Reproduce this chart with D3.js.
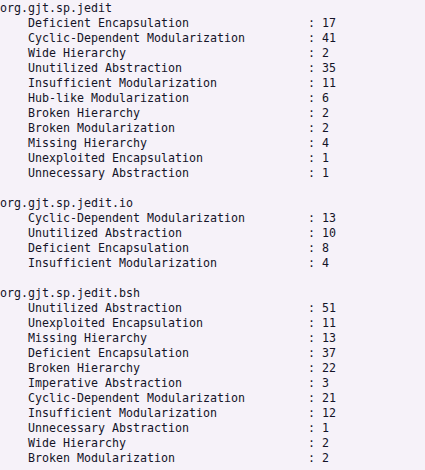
<!DOCTYPE html>
<html>
<head>
<meta charset="utf-8">
<script src="https://cdn.jsdelivr.net/npm/d3@7"></script>
<style>
html,body{margin:0;padding:0;background:#f6f2f9;}
svg{display:block;}
text{font-family:"DejaVu Sans Mono",monospace;font-size:11.63px;fill:#141428;}
</style>
</head>
<body>
<script>
const packages = ["org.gjt.sp.jedit", "org.gjt.sp.jedit.io", "org.gjt.sp.jedit.bsh"];

const jeditSmells = ["Deficient Encapsulation","Cyclic-Dependent Modularization","Wide Hierarchy","Unutilized Abstraction","Insufficient Modularization","Hub-like Modularization","Broken Hierarchy","Broken Modularization","Missing Hierarchy","Unexploited Encapsulation","Unnecessary Abstraction"];
const jeditCounts = [17,41,2,35,11,6,2,2,4,1,1];

const ioSmells = ["Cyclic-Dependent Modularization","Unutilized Abstraction","Deficient Encapsulation","Insufficient Modularization"];
const ioCounts = [13,10,8,4];

const bshSmells = ["Unutilized Abstraction","Unexploited Encapsulation","Missing Hierarchy","Deficient Encapsulation","Broken Hierarchy","Imperative Abstraction","Cyclic-Dependent Modularization","Insufficient Modularization","Unnecessary Abstraction","Wide Hierarchy","Broken Modularization"];
const bshCounts = [51,11,13,37,22,3,21,12,1,2,2];

const smellLists = [jeditSmells, ioSmells, bshSmells];
const countLists = [jeditCounts, ioCounts, bshCounts];

const W = 425, H = 470;
const lines = [];
packages.forEach((p, pi) => {
  if (pi > 0) lines.push({type:"blank"});
  lines.push({type:"pkg", text:p});
  smellLists[pi].forEach((s, si) => lines.push({type:"smell", text:s, value:countLists[pi][si]}));
});

const y = d3.scaleLinear().domain([0, 1]).range([12, 27]);   // row index -> baseline
const col = d3.scaleLinear().domain([0, 1]).range([0, 7]);   // column index -> x

const svg = d3.select("body").append("svg").attr("width", W).attr("height", H);

const rows = svg.selectAll("g.row").data(lines).join("g")
  .attr("class", "row")
  .attr("transform", (d, i) => `translate(0,${y(i)})`);

rows.filter(d => d.type === "pkg").append("text")
  .attr("x", col(0)).text(d => d.text);

const sm = rows.filter(d => d.type === "smell");
sm.append("text").attr("x", col(4)).text(d => d.text);
sm.append("text").attr("x", col(44)).text(":");
sm.append("text").attr("x", col(46)).text(d => d.value);
</script>
</body>
</html>
